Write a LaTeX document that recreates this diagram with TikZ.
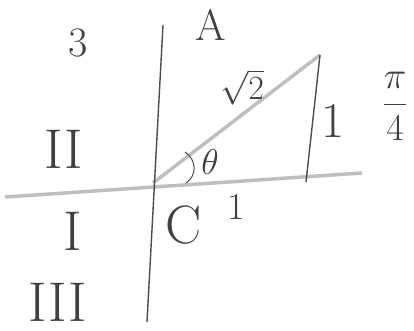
\RequirePackage{fix-cm}
\documentclass[tikz,border=0pt]{standalone}
\begin{document}
\begin{tikzpicture}[x=1pt,y=-1pt,
  axis/.style={gray!50,line width=3.5pt},
  pen/.style={black!70,line width=1.4pt},
  lbl/.style={text=black!75,inner sep=0pt}]
\useasboundingbox (0,0) rectangle (414,331);
\fill[white] (0,0) rectangle (414,331);
\coordinate (vt) at (163,25);
\coordinate (vb) at (147,322);
\coordinate (hl) at (5,197);
\coordinate (hr) at (362,173);
\coordinate (O) at (153,183);
\coordinate (P) at (320,55);
\coordinate (Q) at (306,182);
\coordinate (a1) at (185,152);
\coordinate (a2) at (186,183);
\draw[axis] (hl) -- (hr);
\draw[axis] (O) -- (P);
\draw[pen] (vt) -- (vb);
\draw[pen] (P) -- (Q);
\draw[pen,line width=1pt] (a1) .. controls (197,160) and (197,176) .. (a2);
\node[lbl] (A) at (211,25) {\fontsize{44}{44}\selectfont A};
\node[lbl] (three) at (78,43) {\fontsize{42}{42}\selectfont 3};
\node[lbl] (II) at (64,149) {\fontsize{56}{56}\selectfont II};
\node[lbl] (I) at (73,231) {\fontsize{56}{56}\selectfont I};
\node[lbl] (III) at (58,302) {\fontsize{56}{56}\selectfont III};
\node[lbl] (C) at (184,225) {\fontsize{54}{54}\selectfont C};
\node[lbl] (one1) at (236,207) {\fontsize{38}{38}\selectfont 1};
\node[lbl] (one2) at (333,121) {\fontsize{50}{50}\selectfont 1};
\node[lbl] (th) at (210,162) {\fontsize{36}{36}\selectfont $\theta$};
\node[lbl] (r2) at (242,87) {\fontsize{34}{34}\selectfont $\sqrt{2}$};
\node[lbl] (pi4) at (395,106) {\fontsize{38}{38}\selectfont $\displaystyle\frac{\pi}{4}$};
\end{tikzpicture}
\end{document}
